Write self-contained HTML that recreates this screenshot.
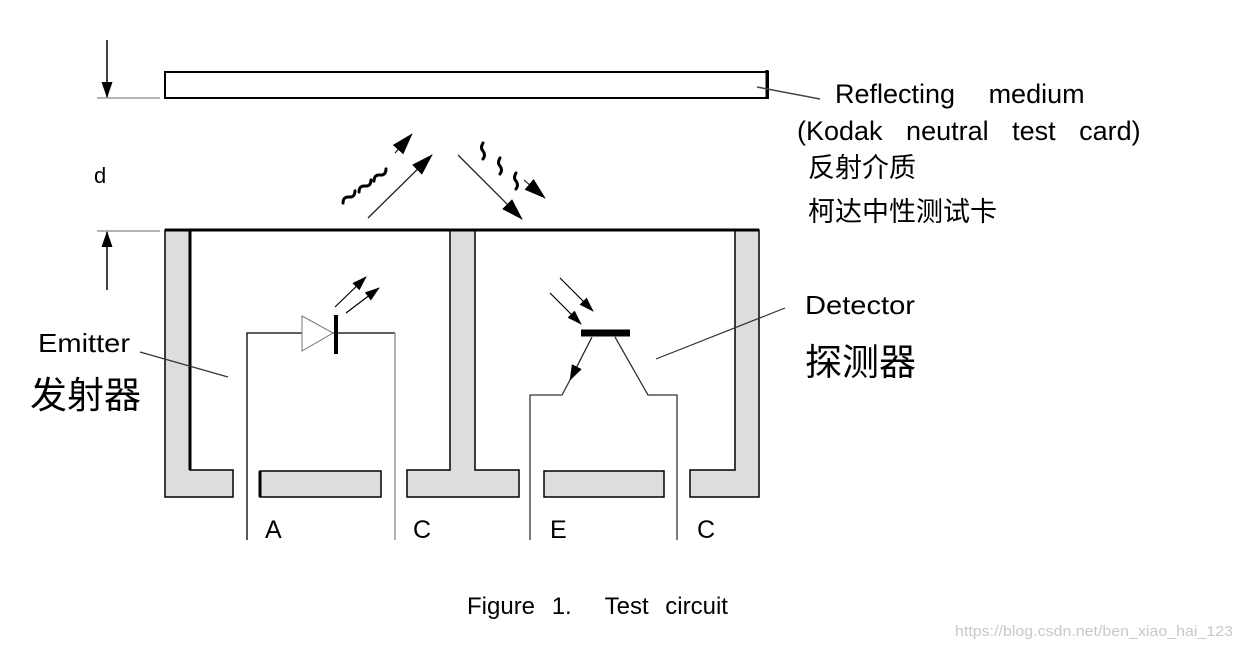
<!DOCTYPE html>
<html><head><meta charset="utf-8"><style>
html,body{margin:0;padding:0;background:#fff;}
svg{display:block;}
text{font-family:"Liberation Sans","Noto Sans CJK SC",sans-serif;fill:#000;white-space:pre;}
</style></head><body>
<svg width="1241" height="648" viewBox="0 0 1241 648" xmlns="http://www.w3.org/2000/svg">
<defs>
<marker id="ah" markerWidth="15" markerHeight="10" refX="14" refY="5" orient="auto" markerUnits="userSpaceOnUse"><path d="M0,0 L15,5 L0,10 Z" fill="#000"/></marker>
<marker id="ahb" markerWidth="22" markerHeight="14" refX="21" refY="7" orient="auto" markerUnits="userSpaceOnUse"><path d="M0,0 L22,7 L0,14 Z" fill="#000"/></marker>
<marker id="ahm" markerWidth="16" markerHeight="11" refX="15" refY="5.5" orient="auto" markerUnits="userSpaceOnUse"><path d="M0,0 L16,5.5 L0,11 Z" fill="#000"/></marker>
</defs>

<rect x="165" y="72" width="603" height="26" fill="#fff" stroke="#000" stroke-width="2"/>
<line x1="767" y1="70" x2="767" y2="98" stroke="#000" stroke-width="3"/>
<line x1="757" y1="87" x2="820" y2="99" stroke="#444" stroke-width="1.5"/>

<line x1="97" y1="98" x2="160" y2="98" stroke="#888" stroke-width="1.2"/>
<line x1="97" y1="231" x2="160" y2="231" stroke="#888" stroke-width="1.2"/>
<line x1="107" y1="40" x2="107" y2="97" stroke="#000" stroke-width="1.5" marker-end="url(#ahm)"/>
<line x1="107" y1="290" x2="107" y2="232" stroke="#000" stroke-width="1.5" marker-end="url(#ahm)"/>
<text x="94" y="183" font-size="22">d</text>

<polygon points="165,230 190,230 190,470 233,470 233,497 165,497" fill="#ddd" stroke="#000" stroke-width="1.5"/>
<line x1="190" y1="230" x2="190" y2="470" stroke="#000" stroke-width="3"/>
<rect x="260" y="471" width="121" height="26" fill="#ddd" stroke="#000" stroke-width="1.5"/>
<line x1="260" y1="471" x2="260" y2="497" stroke="#000" stroke-width="3"/>
<polygon points="450,230 475,230 475,470 519,470 519,497 407,497 407,470 450,470" fill="#ddd" stroke="#000" stroke-width="1.5"/>
<rect x="544" y="471" width="120" height="26" fill="#ddd" stroke="#000" stroke-width="1.5"/>
<polygon points="735,230 759,230 759,497 690,497 690,470 735,470" fill="#ddd" stroke="#000" stroke-width="1.5"/>
<line x1="165" y1="230" x2="759" y2="230" stroke="#000" stroke-width="3"/>

<polyline points="247,540 247,333 395,333" fill="none" stroke="#000" stroke-width="1.3"/>
<line x1="395" y1="333" x2="395" y2="540" stroke="#999" stroke-width="1.5"/>
<polygon points="302,316 302,351 333,333" fill="#fff" stroke="#777" stroke-width="1"/>
<line x1="336" y1="315" x2="336" y2="354" stroke="#000" stroke-width="4"/>
<line x1="335" y1="307" x2="366" y2="277" stroke="#000" stroke-width="1.2" marker-end="url(#ah)"/>
<line x1="346" y1="313" x2="379" y2="288" stroke="#000" stroke-width="1.2" marker-end="url(#ah)"/>

<line x1="581" y1="333" x2="630" y2="333" stroke="#000" stroke-width="7"/>
<line x1="592" y1="337" x2="570" y2="380" stroke="#222" stroke-width="1.3" marker-end="url(#ahm)"/>
<polyline points="570,380 562,395 530,395 530,540" fill="none" stroke="#333" stroke-width="1.3"/>
<polyline points="615,337 648,395 677,395 677,540" fill="none" stroke="#333" stroke-width="1.3"/>
<line x1="560" y1="278" x2="593" y2="311" stroke="#000" stroke-width="1.2" marker-end="url(#ah)"/>
<line x1="550" y1="293" x2="581" y2="324" stroke="#000" stroke-width="1.2" marker-end="url(#ah)"/>

<line x1="368" y1="218" x2="432" y2="155" stroke="#222" stroke-width="1.3" marker-end="url(#ahb)"/>
<line x1="458" y1="155" x2="522" y2="219" stroke="#222" stroke-width="1.3" marker-end="url(#ahb)"/>
<line x1="395" y1="153" x2="412" y2="134" stroke="#000" stroke-width="1" marker-end="url(#ahb)"/>
<line x1="524" y1="180" x2="545" y2="198" stroke="#000" stroke-width="1" marker-end="url(#ahb)"/>
<g fill="none" stroke="#000" stroke-width="3" stroke-linecap="round">
<path d="M341,200 q3,-6 8,-3 q5,3 8,-3" transform="rotate(-25 349 197)"/>
<path d="M357,189 q3,-6 8,-3 q5,3 8,-3" transform="rotate(-25 365 186)"/>
<path d="M372,178 q3,-6 8,-3 q5,3 8,-3" transform="rotate(-25 380 175)"/>
<path d="M483,143 q-3,5 0,8 q3,4 0,8" />
<path d="M500,158 q-3,5 0,8 q3,4 0,8" />
<path d="M516,173 q-3,5 0,8 q3,4 0,8" />
</g>

<line x1="140" y1="352" x2="228" y2="377" stroke="#333" stroke-width="1.2"/>
<line x1="656" y1="359" x2="785" y2="308" stroke="#333" stroke-width="1.2"/>

<text x="835" y="103" font-size="27" word-spacing="26">Reflecting medium</text>
<text x="797" y="140" font-size="27" word-spacing="16">(Kodak neutral test card)</text>
<text x="808" y="177" font-size="27">反射介质</text>
<text x="808" y="221" font-size="27">柯达中性测试卡</text>
<text x="38" y="352" font-size="26" textLength="92" lengthAdjust="spacingAndGlyphs">Emitter</text>
<text x="30" y="408" font-size="37">发射器</text>
<text x="805" y="314" font-size="26" textLength="110" lengthAdjust="spacingAndGlyphs">Detector</text>
<text x="805" y="375" font-size="37">探测器</text>
<text x="265" y="538" font-size="25">A</text>
<text x="413" y="538" font-size="25">C</text>
<text x="550" y="538" font-size="25">E</text>
<text x="697" y="538" font-size="25">C</text>
<text x="467" y="614" font-size="24" word-spacing="10">Figure 1.  Test circuit</text>
<text x="955" y="636" font-size="15" textLength="278" lengthAdjust="spacingAndGlyphs" style="fill:#c8c8c8">https://blog.csdn.net/ben_xiao_hai_123</text>
</svg>
</body></html>
